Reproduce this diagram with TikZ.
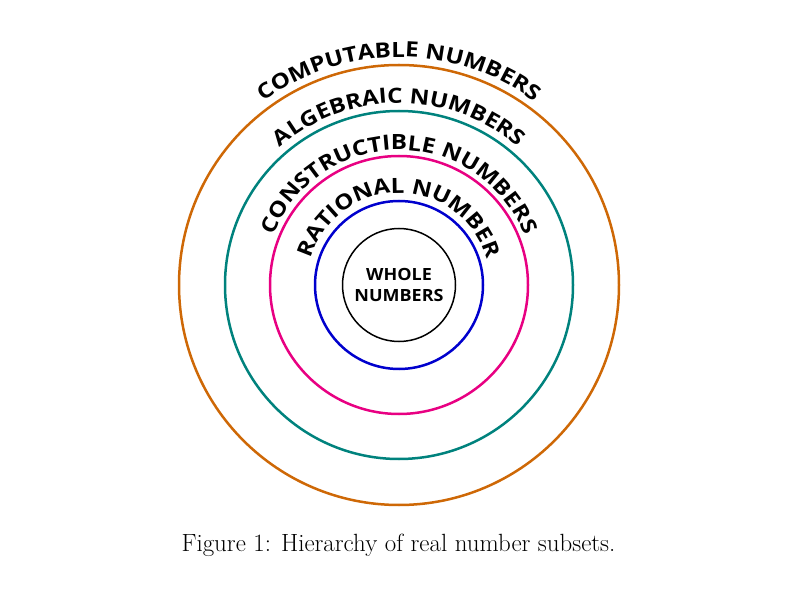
\documentclass[tikz,border=0pt]{standalone}
\usepackage{fontspec}
\usetikzlibrary{decorations.text}
\newfontfamily\arcfont[FakeStretch=1.15]{Open Sans}
\newfontfamily\innerfont[FakeStretch=1.07]{Open Sans}
\definecolor{corange}{RGB}{206,104,6}
\definecolor{cteal}{RGB}{0,130,125}
\definecolor{cpink}{RGB}{232,0,130}
\definecolor{cblue}{RGB}{0,0,205}
\tikzset{
  ring/.style={line width=2.5pt},
  arctext/.style={decorate, decoration={text along path, text align=center,
    text={|\arcfont\bfseries\fontsize{21}{21}\selectfont|#1}}},
  innertext/.style={font=\innerfont\bfseries\fontsize{16.8}{20}\selectfont, inner sep=0pt, anchor=base},
}
\begin{document}
\begin{tikzpicture}[x=1pt,y=1pt]
\useasboundingbox (0,0) rectangle (785,606);
\coordinate (c) at (399,321);
\draw[ring, corange] (c) circle[radius=220];
\draw[ring, cteal] (c) circle[radius=174];
\draw[ring, cpink] (c) circle[radius=129];
\draw[ring, cblue] (c) circle[radius=84];
\draw[line width=1.5pt, black] (c) circle[radius=56.5];
\path[arctext={COMPUTABLE NUMBERS}] (c) ++(180:228) arc[start angle=180, end angle=0, radius=228];
\path[arctext={ALGEBRAIC NUMBERS}] (c) ++(180:182) arc[start angle=180, end angle=0, radius=182];
\path[arctext={CONSTRUCTIBLE NUMBERS}] (c) ++(180:135) arc[start angle=180, end angle=0, radius=135];
\path[arctext={RATIONAL NUMBER}] (c) ++(180:92) arc[start angle=180, end angle=0, radius=92];
\node[innertext] (w1) at (399,325) {WHOLE};
\node[innertext] (w2) at (399,304.3) {NUMBERS};
\node[anchor=base, inner sep=0pt, font=\fontsize{24.9}{30}\selectfont] (cap) at (398.5,55) {Figure 1: Hierarchy of real number subsets.};
\end{tikzpicture}
\end{document}
